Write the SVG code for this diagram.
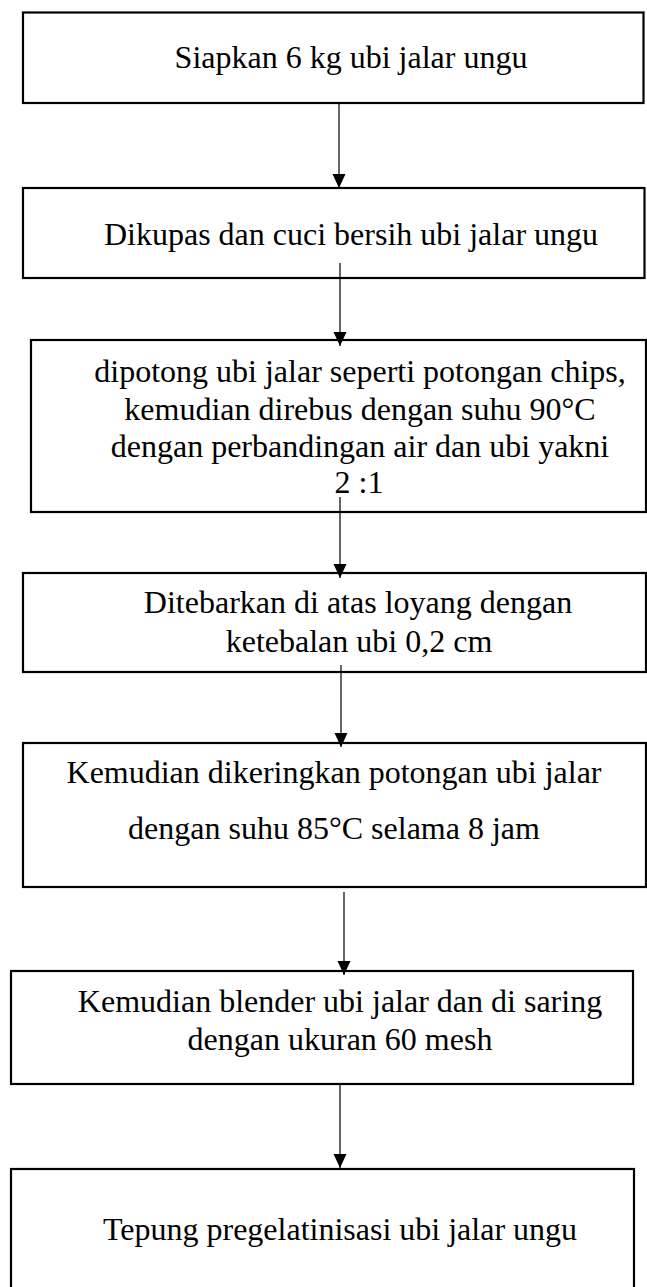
<svg xmlns="http://www.w3.org/2000/svg" width="647" height="1287" viewBox="0 0 647 1287">
<style>
.box{fill:#fff;stroke:#000;stroke-width:2.2}
.t{font-family:"Liberation Serif","Times New Roman",serif;font-size:32px;fill:#000;text-anchor:middle}
.c{stroke:#000;stroke-width:1.2;fill:none;marker-end:url(#ah)}
</style>
<defs>
<marker id="ah" markerUnits="userSpaceOnUse" markerWidth="15" markerHeight="14" refX="14" refY="6.5" orient="auto">
<path d="M0,0 L14,6.5 L0,13 z" fill="#000"/>
</marker>
</defs>
<rect width="647" height="1287" fill="#fff"/>
<g id="n1"><rect class="box" x="23" y="12.5" width="620.5" height="90.5"/><text class="t" x="351" y="68">Siapkan 6 kg ubi jalar ungu</text></g>
<g id="n2"><rect class="box" x="23" y="188" width="621.5" height="90"/><text class="t" x="351" y="245">Dikupas dan cuci bersih ubi jalar ungu</text></g>
<g id="n3"><rect class="box" x="31" y="340" width="615" height="172"/><text class="t" x="360" y="382">dipotong ubi jalar seperti potongan chips,</text><text class="t" x="360" y="420">kemudian direbus dengan suhu 90°C</text><text class="t" x="360" y="457">dengan perbandingan air dan ubi yakni</text><text class="t" x="359" y="493">2 :1</text></g>
<g id="n4"><rect class="box" x="23" y="573" width="623" height="99"/><text class="t" x="358" y="613">Ditebarkan di atas loyang dengan</text><text class="t" x="359" y="652">ketebalan ubi 0,2 cm</text></g>
<g id="n5"><rect class="box" x="23" y="743" width="623" height="144"/><text class="t" x="334" y="783">Kemudian dikeringkan potongan ubi jalar</text><text class="t" x="334" y="839">dengan suhu 85°C selama 8 jam</text></g>
<g id="n6"><rect class="box" x="11" y="971" width="622" height="113"/><text class="t" x="340" y="1012">Kemudian blender ubi jalar dan di saring</text><text class="t" x="340" y="1050">dengan ukuran 60 mesh</text></g>
<g id="n7"><rect class="box" x="11" y="1169" width="623" height="130"/><text class="t" x="340" y="1240">Tepung pregelatinisasi ubi jalar ungu</text></g>
<g id="connectors">
<line class="c" x1="339" y1="103" x2="339" y2="188"/>
<line class="c" x1="340" y1="263" x2="340" y2="346"/>
<line class="c" x1="340" y1="497" x2="340" y2="578"/>
<line class="c" x1="341" y1="665" x2="341" y2="747"/>
<line class="c" x1="344" y1="892" x2="344" y2="975"/>
<line class="c" x1="340" y1="1084" x2="340" y2="1168"/>
</g>
</svg>
